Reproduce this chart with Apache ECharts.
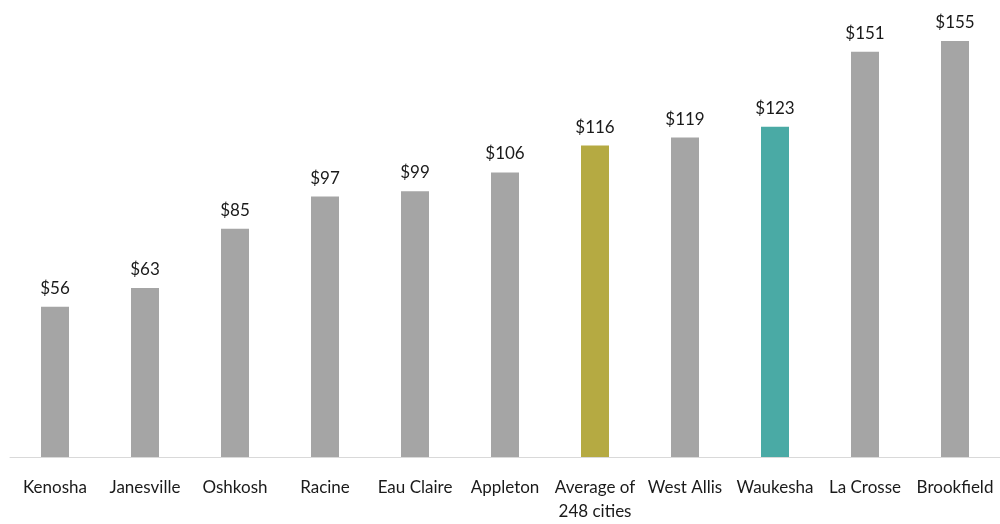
<!DOCTYPE html>
<html>
<head>
<meta charset="utf-8">
<script src="https://cdn.jsdelivr.net/npm/echarts@6/dist/echarts.min.js"></script>
<style>
  html, body { margin: 0; padding: 0; background: #fff; }
  #chart { width: 1000px; height: 524px; }
</style>
</head>
<body>
<div id="chart"></div>
<script>
const cities = ['Kenosha', 'Janesville', 'Oshkosh', 'Racine', 'Eau Claire', 'Appleton',
  'Average of\n248 cities', 'West Allis', 'Waukesha', 'La Crosse', 'Brookfield'];
const values = [56, 63, 85, 97, 99, 106, 116, 119, 123, 151, 155];
const colors = ['#a5a5a5', '#a5a5a5', '#a5a5a5', '#a5a5a5', '#a5a5a5', '#a5a5a5',
  '#b5aa42', '#a5a5a5', '#4aaaa5', '#a5a5a5', '#a5a5a5'];

const chart = echarts.init(document.getElementById('chart'));
const font = 'Lato, "Open Sans", sans-serif';

chart.setOption({
  animation: false,
  grid: { left: 10, right: 0, top: 27.5, bottom: 63, containLabel: false },
  xAxis: {
    type: 'category',
    data: cities,
    axisLine: { lineStyle: { color: '#d9d9d9', width: 1 } },
    axisTick: { show: false },
    axisLabel: {
      interval: 0, color: '#1a1a1a', fontSize: 17, fontFamily: font,
      margin: 19, lineHeight: 24
    }
  },
  yAxis: {
    type: 'value', min: 0, max: 160,
    show: false,
    splitLine: { show: false }
  },
  series: [{
    type: 'bar',
    barWidth: 28,
    data: values.map((v, i) => ({ value: v, itemStyle: { color: colors[i] } })),
    label: {
      show: true, position: 'top', distance: 10,
      formatter: p => '$' + p.value,
      color: '#1a1a1a', fontSize: 17, fontFamily: font
    }
  }]
});
</script>
</body>
</html>
